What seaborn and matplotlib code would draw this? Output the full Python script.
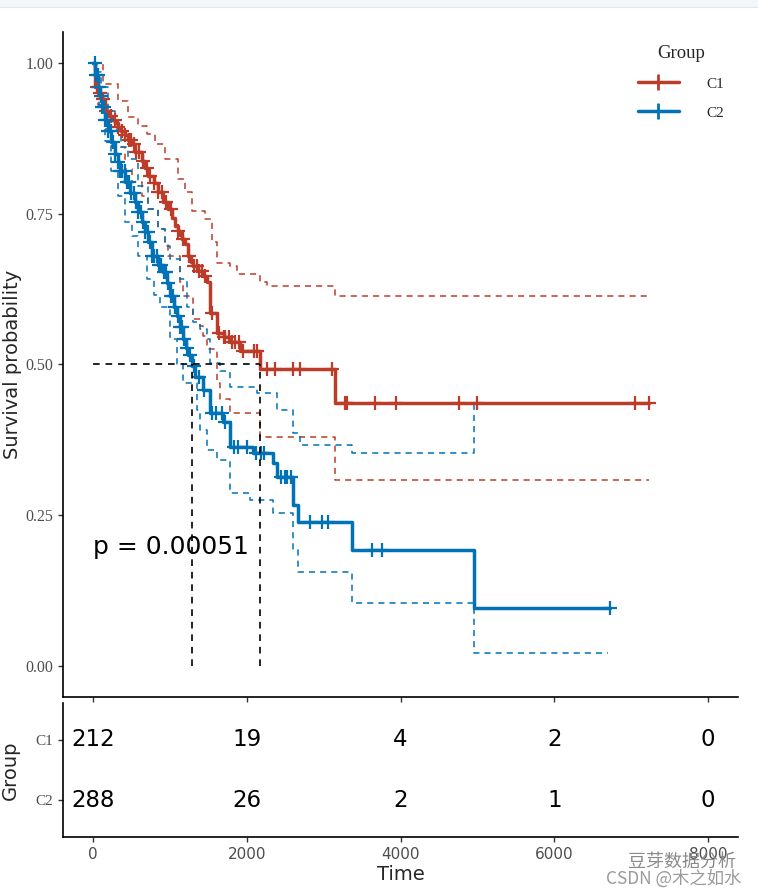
import numpy as np
import pandas as pd
import matplotlib
matplotlib.use("Agg")
import matplotlib.pyplot as plt
import seaborn as sns
from matplotlib.lines import Line2D
from matplotlib.patches import Rectangle

# ---------------- data ----------------
groups = ["C1", "C2"]
colors = ["#BC3C29", "#0072B5"]

c1_time = [0, 26, 60, 100, 156, 200, 250, 290, 325, 370, 420, 460, 507, 546, 637, 680, 715,
           790, 845, 910, 975, 1030, 1066, 1100, 1131, 1160, 1196, 1235, 1270, 1300, 1360, 1430,
           1480, 1521, 1612, 1700, 1781, 1911, 2172, 3147]
c1_surv = [1.0, 0.96, 0.95, 0.94, 0.92, 0.912, 0.905, 0.90, 0.894, 0.887, 0.88, 0.872, 0.865,
           0.852, 0.837, 0.825, 0.812, 0.80, 0.786, 0.77, 0.757, 0.742, 0.729, 0.722, 0.715,
           0.708, 0.70, 0.679, 0.670, 0.663, 0.655, 0.646, 0.636, 0.586, 0.553, 0.545, 0.537,
           0.522, 0.492, 0.437]
c1_end = 7230
c1_up_time = [0, 130, 325, 455, 585, 702, 806, 936, 1105, 1196, 1287, 1456, 1547, 1612, 1781,
              1872, 2172, 2263, 3147]
c1_up = [1.0, 0.965, 0.937, 0.91, 0.895, 0.882, 0.865, 0.84, 0.807, 0.786, 0.754, 0.741, 0.703,
         0.669, 0.663, 0.650, 0.636, 0.630, 0.613]
c1_lo_time = [0, 60, 150, 250, 416, 507, 637, 715, 845, 936, 975, 1131, 1170, 1300, 1391, 1430,
              1482, 1612, 1651, 1781, 2172, 3147]
c1_lo = [1.0, 0.93, 0.89, 0.86, 0.824, 0.802, 0.779, 0.757, 0.724, 0.703, 0.679, 0.636, 0.613,
         0.575, 0.563, 0.547, 0.525, 0.470, 0.442, 0.420, 0.380, 0.309]
c1_ci_end = 7230
c1_censor = [50, 90, 130, 170, 230, 280, 330, 380, 420, 470, 500, 530, 560, 600, 650, 700, 740,
             800, 850, 900, 950, 1020, 1100, 1170, 1250, 1310, 1350, 1380, 1420, 1460, 1550, 1640,
             1700, 1720, 1770, 1810, 1850, 1900, 1950, 2100, 2130, 2263, 2367, 2600, 2692, 3108,
             3277, 3303, 3667, 3940, 4759, 4993, 7048, 7230]

c2_time = [0, 30, 65, 90, 117, 155, 195, 240, 286, 320, 350, 416, 480, 546, 590, 637, 680, 715,
           767, 850, 910, 960, 1001, 1050, 1092, 1130, 1170, 1205, 1240, 1287, 1330, 1430, 1521,
           1690, 1781, 2081, 2341, 2393, 2601, 2666, 3368, 4954]
c2_surv = [1.0, 0.98, 0.96, 0.945, 0.927, 0.905, 0.887, 0.868, 0.849, 0.835, 0.82, 0.802, 0.785,
           0.769, 0.752, 0.736, 0.72, 0.703, 0.679, 0.665, 0.653, 0.635, 0.613, 0.595, 0.580,
           0.562, 0.542, 0.528, 0.515, 0.497, 0.480, 0.458, 0.420, 0.405, 0.364, 0.354, 0.337,
           0.314, 0.267, 0.239, 0.193, 0.096]
c2_end = 6723
c2_up_time = [0, 50, 110, 200, 286, 370, 455, 585, 715, 845, 936, 1001, 1131, 1222, 1300, 1391,
              1482, 1521, 1651, 1781, 2133, 2393, 2601, 2692, 3368, 4954]
c2_up = [1.0, 0.985, 0.96, 0.92, 0.89, 0.86, 0.84, 0.796, 0.757, 0.724, 0.696, 0.674, 0.641,
         0.596, 0.570, 0.558, 0.542, 0.503, 0.49, 0.463, 0.453, 0.425, 0.387, 0.367, 0.354, 0.437]
c2_lo_time = [0, 40, 80, 156, 240, 325, 416, 507, 585, 702, 800, 871, 1001, 1092, 1170, 1352,
              1391, 1482, 1612, 1781, 2042, 2341, 2601, 2666, 3368, 4954]
c2_lo = [1.0, 0.96, 0.93, 0.87, 0.82, 0.78, 0.736, 0.713, 0.679, 0.641, 0.615, 0.596, 0.542,
         0.50, 0.470, 0.425, 0.392, 0.359, 0.342, 0.287, 0.276, 0.254, 0.193, 0.156, 0.105, 0.022]
c2_ci_end = 6700
c2_censor = [20, 40, 60, 80, 100, 120, 140, 160, 180, 200, 230, 260, 290, 320, 350, 380, 410,
             440, 470, 500, 530, 560, 590, 620, 650, 680, 710, 740, 770, 800, 830, 860, 890, 920,
             950, 980, 1010, 1040, 1070, 1100, 1130, 1160, 1190, 1220, 1260, 1320, 1380, 1450,
             1550, 1600, 1680, 1720, 1830, 1880, 2000, 2120, 2180, 2230, 2450, 2500, 2530, 2580,
             2822, 2978, 3056, 3628, 3758, 6723]

median_times = [2172, 1287]
p_text = "p = 0.00051"

risk_times = [0, 2000, 4000, 6000, 8000]
risk_c1 = [212, 19, 4, 2, 0]
risk_c2 = [288, 26, 2, 1, 0]

y_ticks = [0.00, 0.25, 0.50, 0.75, 1.00]
y_ticklabels = ["0.00", "0.25", "0.50", "0.75", "1.00"]
x_ticks = [0, 2000, 4000, 6000, 8000]

# ---------------- style ----------------
sns.set_style("ticks")
plt.rcParams["font.family"] = ["DejaVu Sans"]
SERIF = ["Liberation Serif", "DejaVu Serif"]
CJK = ["Noto Sans CJK SC", "DejaVu Sans"]
GRAY = "#4D4D4D"

fig = plt.figure(figsize=(7.58, 8.96), dpi=100)
fig.patches.append(Rectangle((0, 1 - 7 / 896), 1, 7 / 896, transform=fig.transFigure,
                             facecolor="#f5f6fa", edgecolor="none", zorder=0))
fig.add_artist(Line2D([0, 1], [1 - 7 / 896, 1 - 7 / 896], transform=fig.transFigure,
                      color="#e3e5ec", lw=0.8))

ax1 = fig.add_axes([63 / 758, 1 - 697 / 896, 675 / 758, 665 / 896])
ax2 = fig.add_axes([63 / 758, 1 - 837 / 896, 675 / 758, 134 / 896])

XLIM = (-390, 8390)


def stepline(ax, t, s, end, color, lw, ls):
    x = np.append(np.asarray(t, float), end)
    y = np.append(np.asarray(s, float), s[-1])
    df = pd.DataFrame({"t": x, "s": y})
    sns.lineplot(data=df, x="t", y="s", ax=ax, color=color, lw=lw, linestyle=ls,
                 drawstyle="steps-post", estimator=None, sort=False, legend=False)


series = [
    (c1_time, c1_surv, c1_end, c1_up_time, c1_up, c1_lo_time, c1_lo, c1_ci_end, c1_censor),
    (c2_time, c2_surv, c2_end, c2_up_time, c2_up, c2_lo_time, c2_lo, c2_ci_end, c2_censor),
]

dash = (0, (4.0, 3.3))
for (t, s, end, ut, u, lt, l, cend, cens), col in zip(series, colors):
    stepline(ax1, ut, u, cend, col, 1.1, dash)
    stepline(ax1, lt, l, cend, col, 1.1, dash)

for (t, s, end, ut, u, lt, l, cend, cens), col in zip(series, colors):
    stepline(ax1, t, s, end, col, 2.5, "-")
    ta = np.asarray(t, float)
    sa = np.asarray(s, float)
    idx = np.searchsorted(ta, np.asarray(cens, float), side="right") - 1
    cdf = pd.DataFrame({"t": cens, "s": sa[idx]})
    sns.scatterplot(data=cdf, x="t", y="s", ax=ax1, marker="+", s=110, color=col,
                    linewidth=1.6, legend=False, zorder=5)

# median lines
mdash = (0, (4.0, 3.5))
ax1.plot([0, max(median_times)], [0.5, 0.5], color="black", lw=1.2, ls=mdash, zorder=6)
for m in median_times:
    ax1.plot([m, m], [0, 0.5], color="black", lw=1.2, ls=mdash, zorder=6)

ax1.text(0, 0.198, p_text, fontsize=18, ha="left", va="center", color="black")

ax1.set_xlim(*XLIM)
ax1.set_ylim(-0.051, 1.051)
ax1.set_yticks(y_ticks)
ax1.set_yticklabels(y_ticklabels, fontfamily=SERIF, fontsize=11.5, color=GRAY)
ax1.set_xticks(x_ticks)
ax1.set_xticklabels([])
ax1.set_xlabel("")
ax1.set_ylabel("Survival probability", fontsize=14)
ax1.yaxis.set_label_coords(-0.061, 0.5)
for sp in ["top", "right"]:
    ax1.spines[sp].set_visible(False)
for sp in ["left", "bottom"]:
    ax1.spines[sp].set_linewidth(1.2)
    ax1.spines[sp].set_color("black")
ax1.tick_params(axis="both", length=3.5, width=1.0, color="#333333", direction="out")

handles = [Line2D([], [], color=c, marker="+", markersize=12, markeredgewidth=2.0, lw=2.5)
           for c in colors]
leg = ax1.legend(handles, groups, title="Group", loc="upper right",
                 bbox_to_anchor=(738 / 758, 1 - 31 / 896), bbox_transform=fig.transFigure,
                 frameon=False, prop={"family": SERIF, "size": 11},
                 title_fontproperties={"family": SERIF, "size": 13.5},
                 handlelength=2.7, labelspacing=1.0, handletextpad=1.8)

# ---------------- risk table ----------------
ax2.set_xlim(*XLIM)
ax2.set_ylim(0.4, 2.6)
for i, (grp, vals) in enumerate(zip(groups, [risk_c1, risk_c2])):
    ypos = 2 - i
    for tt, v in zip(risk_times, vals):
        ax2.text(tt, ypos, str(v), fontsize=16.5, ha="center", va="center", color="black")
ax2.set_yticks([2, 1])
ax2.set_yticklabels(groups, fontfamily=SERIF, fontsize=11, color=GRAY)
ax2.set_xticks(x_ticks)
ax2.set_xticklabels([str(x) for x in x_ticks], fontsize=11, color=GRAY)
ax2.set_xlabel("Time", fontsize=14, labelpad=2)
ax2.set_ylabel("Group", fontsize=14)
ax2.yaxis.set_label_coords(-0.064, 0.5)
for sp in ["top", "right"]:
    ax2.spines[sp].set_visible(False)
for sp in ["left", "bottom"]:
    ax2.spines[sp].set_linewidth(1.2)
    ax2.spines[sp].set_color("black")
ax2.tick_params(axis="both", length=3.5, width=1.0, color="#333333", direction="out")

# watermark
fig.text(628 / 758, 1 - 862 / 896, "豆芽数据分析", fontsize=13, family=CJK, color="#8a8a8a",
         ha="left", va="center")
fig.text(606 / 758, 1 - 879 / 896, "CSDN @木之如水", fontsize=12.5, family=CJK, color="#9a9a9a",
         ha="left", va="center")

fig.savefig("out.png", dpi=100, facecolor="white")
